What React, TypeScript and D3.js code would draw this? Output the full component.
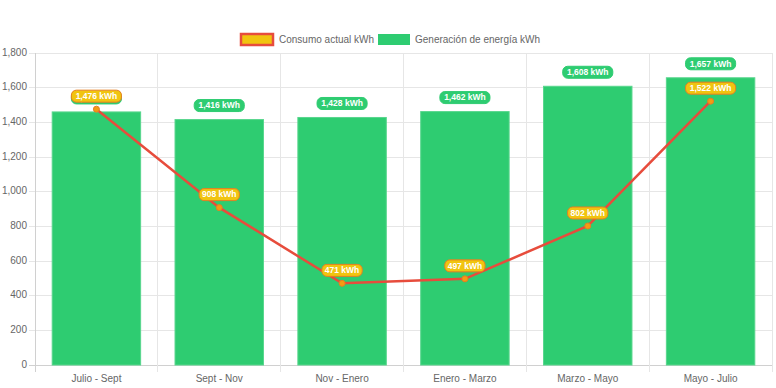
import * as d3 from 'd3'

const periods = ['Julio - Sept', 'Sept - Nov', 'Nov - Enero', 'Enero - Marzo', 'Marzo - Mayo', 'Mayo - Julio']
const consumo = [1476, 908, 471, 497, 802, 1522]
const generacion = [1460, 1416, 1428, 1462, 1608, 1657]
const yTicks = [0, 200, 400, 600, 800, 1000, 1200, 1400, 1600, 1800]

const W = 776
const H = 388
const left = 35
const right = 772
const top = 53
const bottom = 365
const font = '"Liberation Sans", Arial, Helvetica, sans-serif'

const GREEN = '#2ecc71'
const YELLOW = '#f1c40f'
const RED = '#e74c3c'
const ORANGE = '#e67e22'

function Label({ x, y, text, fill, stroke }: { x: number; y: number; text: string; fill: string; stroke: string }) {
  const w = text.length * 4.9 + 6
  return (
    <g>
      <rect x={x - w / 2} y={y - 6} width={w} height={12} rx={5} fill={fill} stroke={stroke} strokeWidth={1} />
      <text x={x} y={y + 0.5} textAnchor='middle' dominantBaseline='middle' fill='#fff'
        fontWeight='bold' fontSize={8.5} fontFamily={font}>{text}</text>
    </g>
  )
}

export default function App() {
  const x = d3.scaleBand().domain(periods).range([left, right]).padding(0)
  const y = d3.scaleLinear().domain([0, 1800]).range([bottom, top])
  const bw = x.bandwidth() * 0.72
  const cx = (p: string) => (x(p) as number) + x.bandwidth() / 2
  const fmt = d3.format(',')

  const line = d3.line<number>()
    .x((_, i) => cx(periods[i]))
    .y(d => y(d))

  const bounds = [...periods.map(p => x(p) as number), right]

  return (
    <svg width={W} height={H} style={{ position: 'absolute', left: 0, top: 0, background: '#fff' }}>
      {/* grid */}
      {yTicks.map(t => (
        <line key={'h' + t} x1={left - 6} x2={right} y1={y(t)} y2={y(t)}
          stroke={t === 0 ? '#d0d0d0' : '#e6e6e6'} strokeWidth={1} shapeRendering='crispEdges' />
      ))}
      {bounds.map((b, i) => (
        <line key={'v' + i} x1={b} x2={b} y1={top} y2={bottom + 7}
          stroke={i === 0 ? '#d0d0d0' : '#e6e6e6'} strokeWidth={1} shapeRendering='crispEdges' />
      ))}

      {/* y tick labels */}
      {yTicks.map(t => (
        <text key={'yt' + t} x={27} y={y(t)} textAnchor='end' dominantBaseline='middle'
          fontSize={10} fill='#666' fontFamily={font}>{fmt(t)}</text>
      ))}

      {/* x tick labels */}
      {periods.map(p => (
        <text key={'xt' + p} x={cx(p)} y={379} textAnchor='middle' dominantBaseline='middle'
          fontSize={10} fill='#666' fontFamily={font}>{p}</text>
      ))}

      {/* bars */}
      {generacion.map((v, i) => (
        <rect key={'b' + i} x={cx(periods[i]) - bw / 2} y={y(v)} width={bw} height={bottom - y(v)}
          fill={GREEN} stroke='#58d68d' strokeWidth={1} />
      ))}

      {/* line */}
      <path d={line(consumo) || ''} fill='none' stroke={RED} strokeWidth={2.5} />
      {consumo.map((v, i) => (
        <circle key={'c' + i} cx={cx(periods[i])} cy={y(v)} r={3} fill='#f39c12' stroke={ORANGE} strokeWidth={1} />
      ))}

      {/* data labels */}
      {generacion.map((v, i) => (
        <Label key={'gl' + i} x={cx(periods[i])} y={y(v) - 14} text={fmt(v) + ' kWh'} fill={GREEN} stroke={GREEN} />
      ))}
      {consumo.map((v, i) => (
        <Label key={'cl' + i} x={cx(periods[i])} y={y(v) - 13} text={fmt(v) + ' kWh'} fill={YELLOW} stroke={ORANGE} />
      ))}

      {/* legend */}
      <rect x={241} y={34} width={32} height={11} fill={YELLOW} stroke={RED} strokeWidth={2.5} />
      <text x={279} y={40} dominantBaseline='middle' fontSize={10} fill='#666' fontFamily={font}>Consumo actual kWh</text>
      <rect x={378} y={34} width={32} height={11} fill={GREEN} />
      <text x={415} y={40} dominantBaseline='middle' fontSize={10} fill='#666' fontFamily={font}>Generación de energía kWh</text>
    </svg>
  )
}
